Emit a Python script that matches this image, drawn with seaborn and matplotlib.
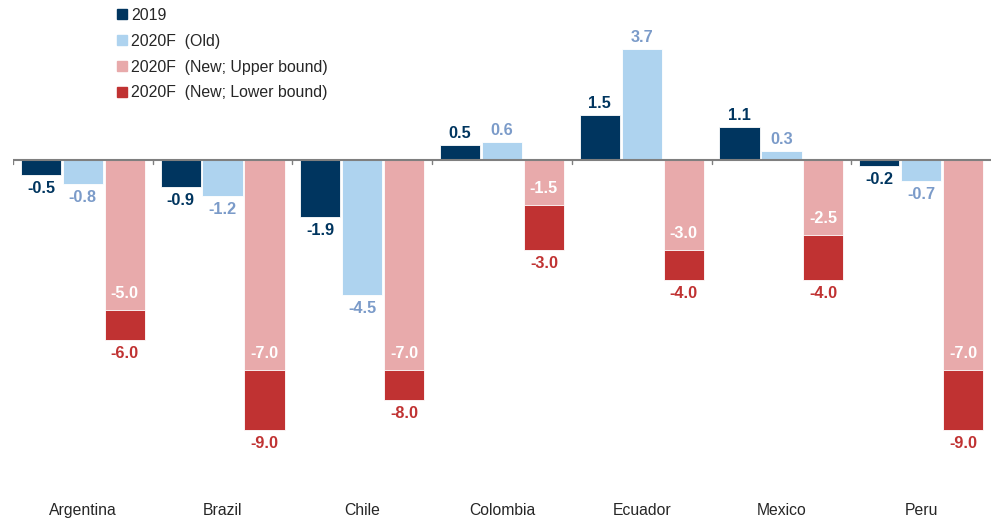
import pandas as pd
import matplotlib
matplotlib.use('Agg')
import matplotlib.pyplot as plt
from matplotlib.patches import Patch
import seaborn as sns

# ==============================================================================
# DATA
# ==============================================================================
countries = ['Argentina', 'Brazil', 'Chile', 'Colombia', 'Ecuador', 'Mexico', 'Peru']
gdp_2019 = [-0.5, -0.9, -1.9, 0.5, 1.5, 1.1, -0.2]
gdp_2020_old = [-0.8, -1.2, -4.5, 0.6, 3.7, 0.3, -0.7]
gdp_2020_upper = [-5.0, -7.0, -7.0, -1.5, -3.0, -2.5, -7.0]
gdp_2020_lower = [-6.0, -9.0, -8.0, -3.0, -4.0, -4.0, -9.0]

series_names = ['2019', '2020F  (Old)', '2020F  (New; Upper bound)', '2020F  (New; Lower bound)']

NAVY = '#00355f'
LIGHT = '#aed3ef'
PINK = '#e8aaab'
RED = '#c03232'
LIGHT_TXT = '#7b9bc9'

# ==============================================================================
# PLOT
# ==============================================================================
sns.set_style('white')
plt.rcParams['font.family'] = ['Liberation Sans', 'DejaVu Sans']

df = pd.DataFrame({
    'country': countries * 3,
    'series': ['2019'] * 7 + ['old'] * 7 + ['lower'] * 7,
    'value': gdp_2019 + gdp_2020_old + gdp_2020_lower,
})

fig = plt.figure(figsize=(9.92, 5.19), dpi=100)
ax = fig.add_axes([13 / 992, 24 / 519, 978 / 992, 495 / 519])

sns.barplot(data=df, x='country', y='value', hue='series',
            hue_order=['2019', 'old', 'lower'],
            palette=[NAVY, LIGHT, RED], saturation=1, width=0.9, gap=0.04,
            edgecolor='white', linewidth=0.6, legend=False, ax=ax)

# upper bound overlays the lower bound bar (same slot)
lower_patches = ax.containers[2].patches
for p, up in zip(lower_patches, gdp_2020_upper):
    ax.bar(p.get_x(), up, width=p.get_width(), align='edge',
           color=PINK, edgecolor='white', linewidth=0.6, zorder=3)

ax.set_ylim(-11.167, 5.333)
ax.set_xlim(-0.5, 6.5)

def label(x, y, txt, color, up, off_px):
    ax.annotate(txt, (x, y), xytext=(0, off_px * 0.72 if up else -off_px * 0.72),
                textcoords='offset points', ha='center', va='center',
                fontsize=11.7, fontweight='bold', color=color, zorder=5)

for cont, vals, col in [(ax.containers[0], gdp_2019, NAVY),
                        (ax.containers[1], gdp_2020_old, LIGHT_TXT)]:
    for p, v in zip(cont.patches, vals):
        cx = p.get_x() + p.get_width() / 2
        if v >= 0:
            label(cx, v, f'{v:.1f}', col, True, 11)
        else:
            label(cx, v, f'{v:.1f}', col, False, 14)

for p, up, lo in zip(lower_patches, gdp_2020_upper, gdp_2020_lower):
    cx = p.get_x() + p.get_width() / 2
    label(cx, up, f'{up:.1f}', 'white', True, 16)
    label(cx, lo, f'{lo:.1f}', RED, False, 14)

# zero line with small ticks between groups
ax.axhline(0, color='#7f7f7f', linewidth=1.5, zorder=4)
for b in range(7):
    ax.plot([b - 0.5, b - 0.5], [0, -0.13], color='#7f7f7f', linewidth=1, zorder=4)

sns.despine(ax=ax, left=True, bottom=True, top=True, right=True)
ax.set_yticks([])
ax.set_xlabel('')
ax.set_ylabel('')
ax.tick_params(axis='x', length=0, pad=6, labelsize=11.3)

handles = [Patch(color=c) for c in [NAVY, LIGHT, PINK, RED]]
fig.legend(handles, series_names, loc='upper left',
           bbox_to_anchor=(117 / 992, 1 - 8 / 519), frameon=False,
           fontsize=11.4, handlelength=0.6, handleheight=0.6,
           handletextpad=0.3, labelspacing=0.68, borderpad=0, borderaxespad=0)

fig.savefig('out.png', dpi=100)
